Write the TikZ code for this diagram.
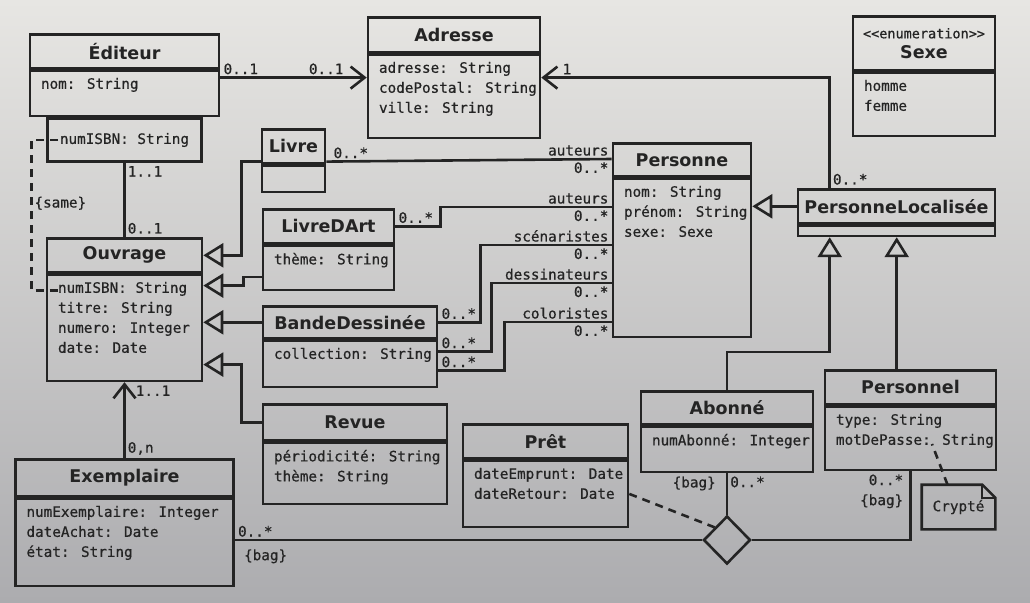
\documentclass[tikz,border=0pt]{standalone}
\usepackage{fontspec}
\setmainfont{DejaVu Sans}
\newfontfamily\monofont[FakeBold=0.6]{DejaVu Sans Mono}
\usetikzlibrary{arrows.meta, shapes.geometric}

\definecolor{paper}{RGB}{231,230,227}
\definecolor{papermid}{RGB}{223,223,221}
\definecolor{paperdark}{RGB}{172,172,175}
\definecolor{ink}{RGB}{36,36,36}

\newcommand{\titlefont}{\fontsize{17.5}{20}\selectfont\bfseries}
\newcommand{\attrfont}{\monofont\fontsize{14.3}{20}\selectfont}

% class box: name, centre x, top y, width, title height, body height, title, attributes
\newcommand{\umlclass}[8]{%
    \node[ctitle, minimum width=#4, minimum height=#5] (#1) at (#2,#3) {#7};
    \node[cbody, minimum width=#4, minimum height=#6] (#1A) at (#1.south) {};
    \node[cattr] (#1T) at (#1A.north west) {#8};
}

\begin{document}
\begin{tikzpicture}[x=1pt, y=-1pt, line width=2.6pt, color=ink,
    ctitle/.style={draw, anchor=north, inner sep=0pt, align=center, font=\titlefont},
    cbody/.style={draw, anchor=north, inner sep=0pt},
    cattr/.style={anchor=north west, inner xsep=11pt, inner ysep=7pt, align=left, font=\attrfont},
    qbox/.style={draw, inner sep=0pt, font=\attrfont},
    mult/.style={font=\attrfont, inner sep=2pt},
    navig/.style={-{Straight Barb[length=14pt, width=22pt]}},
    gen/.style={-{Triangle[open, length=20pt, width=24pt]}},
    cstr/.style={dash pattern=on 8pt off 6pt}]

    % Paper
    \useasboundingbox (0,0) rectangle (1030,602);
    \shade[top color=paper, middle color=papermid, bottom color=paperdark] (0,0) rectangle (1030,602);

    % Classes
    \umlclass{editeur}{124.5}{33}{189}{34}{45}{Éditeur}{nom: String}
    \node[qbox, minimum width=154, minimum height=43, anchor=north] (qualif) at (editeurA.south) {numISBN: String};
    \umlclass{adresse}{454}{16}{172}{35}{83}{Adresse}{adresse: String\\codePostal: String\\ville: String}
    \umlclass{sexe}{924}{15}{142}{54}{63}{{\monofont\mdseries\fontsize{13.5}{15}\selectfont <<enumeration>>}\\Sexe}{homme\\femme}
    \umlclass{livre}{293.5}{128}{63}{34}{26}{Livre}{}
    \umlclass{livredart}{328.5}{208}{131}{34}{44}{LivreDArt}{thème: String}
    \umlclass{personne}{682}{142}{138}{33}{158}{Personne}{nom: String\\prénom: String\\sexe: Sexe}
    \umlclass{pl}{896.5}{188}{197}{34}{10}{PersonneLocalisée}{}
    \umlclass{ouvrage}{124.5}{237}{155}{34}{106}{Ouvrage}{numISBN: String\\titre: String\\numero: Integer\\date: Date}
    \umlclass{bd}{350}{305}{174}{32}{46}{BandeDessinée}{collection: String}
    \umlclass{revue}{355}{403}{184}{36}{61}{Revue}{périodicité: String\\thème: String}
    \umlclass{exemplaire}{124.5}{458}{218}{37}{87}{Exemplaire}{numExemplaire: Integer\\dateAchat: Date\\état: String}
    \umlclass{pret}{545.5}{423}{165}{34}{66}{Prêt}{dateEmprunt: Date\\dateRetour: Date}
    \umlclass{abonne}{727}{390}{172}{33}{45}{Abonné}{numAbonné: Integer}
    \umlclass{personnel}{910.5}{369}{171}{34}{63}{Personnel}{type: String\\motDePasse: String}

    % Note
    \node[font=\attrfont, minimum width=71, minimum height=42, inner sep=0pt] (crypte) at (958.5,507) {Crypté};
    \draw (crypte.north west) -- ([xshift=-13pt]crypte.north east) -- ([yshift=-13pt]crypte.north east)
        -- (crypte.south east) -- (crypte.south west) -- cycle;
    \draw[line width=1.8pt] ([xshift=-13pt]crypte.north east) |- ([yshift=-13pt]crypte.north east);
    \coordinate (mdp) at (932,444);
    \draw[cstr] ([xshift=-11pt]crypte.north) -- (mdp);

    % Navigable associations to Adresse
    \coordinate (ea) at ([yshift=-8pt]editeurA.north east);
    \draw[navig] (ea) node[mult, above right] {0..1} -- (ea -| adresse.west) node[mult, above left, xshift=-20pt] {0..1};
    \draw[navig] ([xshift=33pt]pl.north west) node[mult, above right] {0..*} |- (ea -| adresse.east)
        node[mult, above right, xshift=18pt] {1};

    % Qualified association and Exemplaire
    \draw (qualif.south) node[mult, below right] {1..1} -- (ouvrage.north) node[mult, above right] {0..1};
    \draw[navig] (exemplaire.north) node[mult, above right] {0,n} -- (ouvrageA.south) node[mult, below right, xshift=8pt] {1..1};

    % {same} constraint
    \coordinate (isbnQ) at ([xshift=12pt]qualif.west);
    \coordinate (isbnO) at ([xshift=12pt, yshift=-17pt]ouvrageA.north west);
    \draw[cstr] (isbnQ) -- ++(-27,0) |- (isbnO) node[mult, pos=0.21, right] {\{same\}};

    % Generalisations
    \draw[gen] ([yshift=3pt]livre.south west) -- ++(-19,0) |- (ouvrage.east);
    \draw[gen] ([yshift=-9pt]livredartA.west) -- ++(-18,0) |- ([yshift=-12pt]ouvrageA.north east);
    \draw[gen] (bd.west) -- (bd.west -| ouvrage.east);
    \draw[gen] (revue.west) -- ++(-20,0) |- ([yshift=-91pt]ouvrageA.north east);
    \draw[gen] (pl.west) -- (pl.west -| personne.east);
    \coordinate (plL) at ([xshift=33pt]plA.south west);
    \coordinate (plR) at ([xshift=100pt]plA.south west);
    \draw[gen] (abonne.north) -- ++(0,-38) -| (plL);
    \draw[gen] (plR |- personnel.north) -- (plR);

    % Roles of Personne
    \coordinate (pAut) at ([yshift=-17pt]personne.north west);
    \coordinate (pArt) at ([yshift=-65pt]personne.north west);
    \coordinate (pScen) at ([yshift=-103pt]personne.north west);
    \coordinate (pDess) at ([yshift=-141pt]personne.north west);
    \coordinate (pColo) at ([yshift=-180pt]personne.north west);
    \draw ([yshift=3pt]livre.south east) node[mult, above right, xshift=4pt] {0..*} -- (pAut)
        node[mult, above left] {auteurs} node[mult, below left] {0..*};
    \draw (livredart.east) node[mult, above right] {0..*} -- ++(45,0) |- (pArt)
        node[mult, above left] {auteurs} node[mult, below left] {0..*};
    \coordinate (bdScen) at (bd.east);
    \coordinate (bdDess) at ([yshift=-12pt]bdA.north east);
    \coordinate (bdColo) at ([yshift=-31pt]bdA.north east);
    \foreach \src/\dx/\dst/\role in {bdScen/42/pScen/scénaristes, bdDess/53/pDess/dessinateurs, bdColo/66/pColo/coloristes} {
        \draw (\src) node[mult, above right] {0..*} -- ++(\dx,0) |- (\dst)
            node[mult, above left] {\role} node[mult, below left] {0..*};
    }

    % Ternary association (Prêt)
    \node[diamond, draw, minimum width=47, minimum height=48, inner sep=0pt] (emprunt) at (727,540) {};
    \draw (emprunt.west -| exemplaireA.east) node[mult, above right] {0..*}
        node[mult, below right, xshift=6pt, yshift=-6pt] {\{bag\}} -- (emprunt.west);
    \draw (abonneA.south) node[mult, below left, xshift=-8pt] {\{bag\}} node[mult, below right] {0..*} -- (emprunt.north);
    \draw (personnelA.south) node[mult, below left, align=right, xshift=-4pt] {0..*\\\{bag\}} |- (emprunt.east);
    \draw[cstr] (pretA.east) -- (emprunt.north west);
\end{tikzpicture}
\end{document}
